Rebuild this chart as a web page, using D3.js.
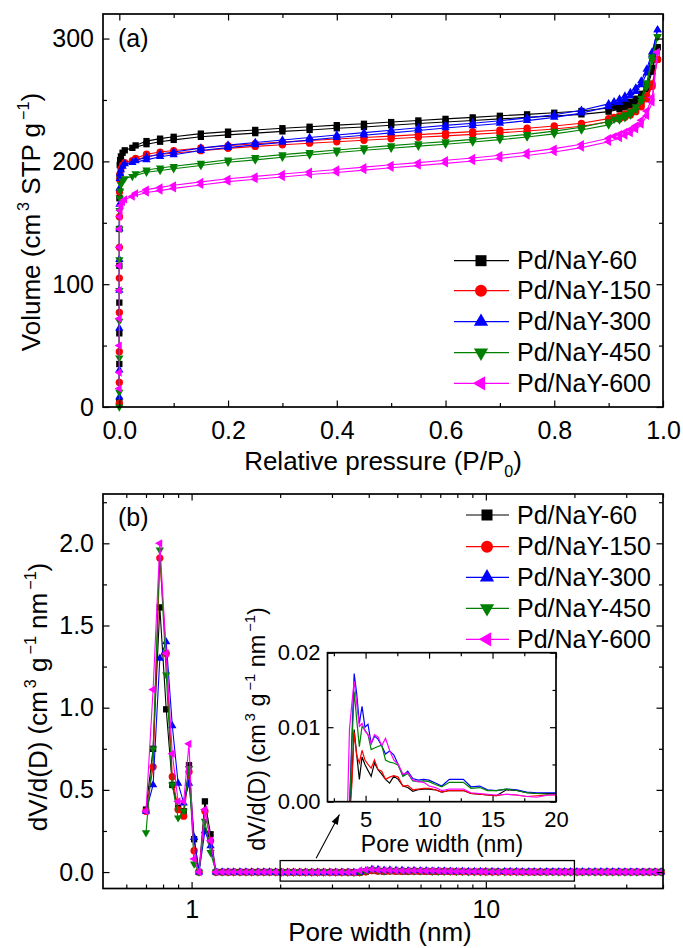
<!DOCTYPE html>
<html>
<head>
<meta charset="utf-8">
<script src="https://cdn.jsdelivr.net/npm/d3@7.9.0/dist/d3.min.js"></script>
<style>
  body { margin: 0; background: #fff; }
  text { font-family: "Liberation Sans", Arial, sans-serif; fill: #000; }
</style>
</head>
<body>
<svg id="chart" width="683" height="948"></svg>
<script>
// ---- data ----
const seriesNames = ["Pd/NaY-60", "Pd/NaY-150", "Pd/NaY-300", "Pd/NaY-450", "Pd/NaY-600"];
const seriesColors = ["#000000", "#ff0000", "#0000ff", "#008000", "#ff00ff"];
const seriesSymbols = ["square", "circle", "up", "down", "left"];

// (a) isotherms, relative pressure P/P0
const pAds = [0.000001, 0.000005, 0.00001, 0.00003, 0.00006, 0.0001, 0.0002, 0.0004, 0.0008, 0.0015, 0.003, 0.006, 0.01,
  0.024, 0.05, 0.075, 0.1,
  0.15, 0.2, 0.25, 0.3, 0.35, 0.4, 0.45, 0.5, 0.55, 0.6, 0.65, 0.7, 0.75, 0.8, 0.85,
  0.9, 0.92, 0.93, 0.94, 0.95, 0.96, 0.97, 0.98, 0.99];
const pDes = [0.99, 0.98, 0.97, 0.96, 0.95, 0.94, 0.93, 0.92, 0.91, 0.9,
  0.85, 0.8, 0.75, 0.7, 0.65, 0.6, 0.55, 0.5, 0.45, 0.4, 0.35, 0.3, 0.25, 0.2, 0.15,
  0.1, 0.075, 0.05, 0.03];

const vAds60 = [5, 35, 60, 85, 115, 145, 170, 188, 197, 201, 204, 207, 209,
  211, 214, 216, 217.5,
  220, 221.6, 223, 224.4, 225.6, 227, 228, 229.4, 230.8, 232, 233.3, 234.6, 235.8, 237, 238.3,
  240.5, 242.5, 244, 245.5, 248, 252, 259, 273, 293];
const vDes60 = [293, 276, 262, 255, 251, 248.5, 247, 246, 244.5, 243.5,
  241, 239.6, 238.3, 237.1, 235.8, 234.6, 233.3, 232, 230.6, 229.5, 228.2, 227, 225.6, 224.2, 222.6,
  220, 218.5, 216.5, 213];

const vAds150 = [3, 20, 45, 77, 105, 130, 155, 175, 185, 190, 194, 197, 199,
  200.5, 203.8, 205.6, 206.8,
  208.7, 210.6, 212.2, 213.5, 214.8, 216, 217.2, 218.4, 219.6, 220.8, 222, 223.3, 224.7, 226.4, 228.6,
  232.2, 234.5, 236, 237.8, 240.5, 244.5, 251, 261, 283];
const vDes150 = [283, 263, 253.5, 247, 243, 240.2, 238.5, 237, 235.8, 234.8,
  231, 228.8, 227, 225.5, 224.2, 223, 221.8, 220.6, 219.4, 218.2, 217, 215.7, 214.4, 212.8, 210.9,
  208.8, 207.6, 205.8, 202.5];

const vAds300 = [8, 30, 64, 95, 120, 145, 165, 178, 186, 190, 193, 196, 198,
  199, 201.2, 203.8, 205.4,
  208.8, 211.2, 213.4, 215.4, 217.3, 219.4, 221.3, 223.2, 225.2, 227.2, 229, 230.9, 233.2, 235.8, 239.3,
  244.5, 247.8, 250.5, 253.3, 256.8, 262.3, 271.8, 286.7, 307];
const vDes300 = [307, 289, 275, 265.5, 259.8, 256, 253.2, 250.8, 248.6, 246.8,
  241.6, 238, 235.4, 233.1, 231.1, 229.3, 227.4, 225.4, 223.4, 221.5, 219.4, 217.4, 215.4, 213.2, 210.8,
  207.6, 206, 203.5, 200.5];

const vAds450 = [0, 12, 40, 70, 95, 120, 145, 160, 170, 176, 181, 184, 186,
  187.8, 191.2, 192.6, 194,
  196.6, 199.3, 201.2, 203.4, 205.2, 207.2, 209, 210.7, 212.4, 214, 215.8, 217.7, 219.8, 222.4, 225.5,
  229.7, 233.8, 235.6, 237.8, 241.9, 248.7, 260.9, 282.6, 301.6];
const vDes450 = [301.6, 285, 264, 251.5, 244.5, 240.4, 238, 236.2, 234.3, 232.4,
  227.8, 224.6, 222, 219.8, 217.9, 216.1, 214.5, 212.8, 211.1, 209.3, 207.3, 205.5, 203.3, 201.3, 198.6,
  196, 194.6, 193, 190];

const vAds600 = [15, 28, 50, 72, 95, 115, 130, 145, 155, 160, 164, 167, 169,
  171.4, 174.6, 176.2, 178,
  180.8, 183.5, 185.5, 187.3, 189.3, 190.9, 192.9, 194.8, 196.5, 198.4, 200.3, 202.4, 204.8, 207.6, 211.2,
  216, 219, 221, 223, 226, 230, 237, 248, 289];
const vDes600 = [289, 252, 241, 233.5, 229, 226, 224, 222.2, 220.4, 218.8,
  214, 210.4, 207.5, 205, 202.8, 200.9, 199, 197.2, 195.3, 193.4, 191.6, 189.7, 187.8, 185.8, 183.3,
  180.5, 178.8, 177, 174];

// (b) pore size distribution, pore width (nm)
const poreWidth = [0.70, 0.74, 0.78, 0.82, 0.86, 0.90, 0.94, 0.98, 1.02, 1.06, 1.11, 1.16, 1.21,
  1.27, 1.33, 1.39, 1.46, 1.53, 1.60, 1.68, 1.76, 1.84, 1.93,
  2.02, 2.12, 2.22, 2.33, 2.44, 2.56, 2.68, 2.81, 2.95, 3.09, 3.24, 3.40,
  3.56, 3.73, 3.91, 4.10, 4.30, 4.51, 4.72, 4.95,
  5.19, 5.44, 5.70, 5.98, 6.27, 6.57, 6.89, 7.22, 7.57, 7.94,
  8.32, 8.72, 9.14, 9.58,
  10.0, 10.5, 11.0, 11.6, 12.1, 12.7, 13.3, 14.0, 14.6, 15.3, 16.1, 16.9, 17.7, 18.5, 19.4,
  20.4, 21.3, 22.4, 23.5, 24.6, 25.8, 27.0, 28.3, 29.7, 31.1, 32.6, 34.2, 35.9, 37.6, 39.4];

const dv60 = [0.38, 0.75, 1.61, 0.99, 0.53, 0.39, 0.37, 0.65, 0.20, 0.00, 0.43, 0.23, 0.00,
  0, 0, 0, 0, 0, 0, 0, 0, 0, 0,
  -0.001, -0.001, -0.001, -0.001, -0.001, -0.001, -0.001, -0.001, -0.001, -0.001, -0.001, -0.001,
  -0.002, -0.002, 0.003, 0.0097, 0.0063, 0.0030, 0.0060, 0.0050,
  0.0042, 0.0034, 0.0052, 0.0043, 0.0037, 0.0030, 0.0025, 0.0034, 0.0030, 0.0021,
  0.0019, 0.0014, 0.0016, 0.0017,
  0.0017, 0.0016, 0.0013, 0.0015, 0.0015, 0.0015, 0.0011, 0.0010, 0.0009, 0.0008, 0.0016, 0.0015, 0.0012, 0.0011, 0.0011,
  0.0011, 0.0010, 0.0010, 0.0009, 0.0009, 0.0008, 0.0008, 0.0007, 0.0007, 0.0006, 0.0006, 0.0005, 0.0005, 0.0005, 0.0004];
const dv150 = [0.37, 0.64, 1.91, 1.33, 0.58, 0.38, 0.34, 0.61, 0.13, 0.00, 0.37, 0.19, 0.00,
  0, 0, 0, 0, 0, 0, 0, 0, 0, 0,
  -0.001, -0.001, -0.001, -0.001, -0.001, -0.001, -0.001, -0.001, -0.001, -0.001, -0.001, -0.001,
  -0.002, -0.002, 0.002, 0.0093, 0.0062, 0.0052, 0.0069, 0.0056,
  0.0050, 0.0045, 0.0056, 0.0043, 0.0041, 0.0030, 0.0033, 0.0035, 0.0033, 0.0021,
  0.0022, 0.0016, 0.0017, 0.0018,
  0.0018, 0.0016, 0.0013, 0.0015, 0.0015, 0.0015, 0.0011, 0.0010, 0.0009, 0.0008, 0.0010, 0.0009, 0.0007, 0.0008, 0.0009,
  0.0009, 0.0009, 0.0008, 0.0008, 0.0007, 0.0007, 0.0007, 0.0006, 0.0006, 0.0005, 0.0005, 0.0005, 0.0004, 0.0004, 0.0004];
const dv300 = [0.37, 0.53, 1.30, 1.40, 0.89, 0.54, 0.42, 0.54, 0.21, 0.00, 0.25, 0.16, 0.00,
  0, 0, 0, 0, 0, 0, 0, 0, 0, 0,
  -0.001, -0.001, -0.001, -0.001, -0.001, -0.001, -0.001, -0.001, -0.001, -0.001, -0.001, -0.001,
  -0.002, -0.001, 0.008, 0.0172, 0.0145, 0.0105, 0.0128, 0.0100,
  0.0104, 0.0078, 0.0088, 0.0084, 0.0075, 0.0064, 0.0068, 0.0063, 0.0050, 0.0035,
  0.0041, 0.0031, 0.0029, 0.0030,
  0.0029, 0.0025, 0.0021, 0.0030, 0.0030, 0.0030, 0.0020, 0.0021, 0.0016, 0.0015, 0.0017, 0.0016, 0.0013, 0.0012, 0.0012,
  0.0012, 0.0012, 0.0011, 0.0011, 0.0010, 0.0010, 0.0009, 0.0009, 0.0008, 0.0008, 0.0007, 0.0007, 0.0006, 0.0006, 0.0005];
const dv450 = [0.24, 0.75, 1.96, 1.20, 0.53, 0.33, 0.37, 0.63, 0.05, 0.00, 0.31, 0.12, 0.00,
  0, 0, 0, 0, 0, 0, 0, 0, 0, 0,
  -0.001, -0.001, -0.001, -0.001, -0.001, -0.001, -0.001, -0.001, -0.001, -0.001, -0.001, -0.001,
  -0.002, -0.001, 0.007, 0.0148, 0.0110, 0.0074, 0.0101, 0.0096,
  0.0090, 0.0070, 0.0072, 0.0074, 0.0076, 0.0056, 0.0053, 0.0052, 0.0049, 0.0034,
  0.0038, 0.0028, 0.0027, 0.0028,
  0.0027, 0.0023, 0.0020, 0.0026, 0.0026, 0.0026, 0.0018, 0.0019, 0.0015, 0.0015, 0.0017, 0.0015, 0.0012, 0.0011, 0.0010,
  0.0010, 0.0010, 0.0009, 0.0009, 0.0008, 0.0008, 0.0008, 0.0007, 0.0007, 0.0006, 0.0006, 0.0005, 0.0005, 0.0005, 0.0004];
const dv600 = [0.37, 1.11, 2.00, 1.33, 0.72, 0.43, 0.43, 0.78, 0.08, 0.00, 0.38, 0.19, 0.00,
  0, 0, 0, 0, 0, 0, 0, 0, 0, 0,
  -0.001, -0.001, -0.001, -0.001, -0.001, -0.001, -0.001, -0.001, -0.001, -0.001, -0.001, -0.001,
  -0.002, 0.0097, 0.0130, 0.0162, 0.0132, 0.0101, 0.0105, 0.0095,
  0.0090, 0.0078, 0.0090, 0.0087, 0.0075, 0.0085, 0.0069, 0.0056, 0.0050, 0.0037,
  0.0039, 0.0029, 0.0027, 0.0026,
  0.0021, 0.0019, 0.0015, 0.0017, 0.0017, 0.0017, 0.0012, 0.0011, 0.0010, 0.0009, 0.0010, 0.0009, 0.0007, 0.0006, 0.0009,
  0.0010, 0.0009, 0.0009, 0.0008, 0.0008, 0.0007, 0.0007, 0.0006, 0.0006, 0.0006, 0.0005, 0.0005, 0.0004, 0.0004, 0.0004];

// tick values
const aXMajor = [0, 0.2, 0.4, 0.6, 0.8, 1.0];
const aXMinor = [0.1, 0.3, 0.5, 0.7, 0.9];
const aYMajor = [0, 100, 200, 300];
const aYMinor = [50, 150, 250];
const bXMajor = [1, 10];
const bXMinor = [0.6, 0.7, 0.8, 0.9, 2, 3, 4, 5, 6, 7, 8, 9, 20, 30, 40];
const bYMajor = [0, 0.5, 1.0, 1.5, 2.0];
const bYMinor = [0.25, 0.75, 1.25, 1.75, 2.25];
const iXMajor = [5, 10, 15, 20];
const iXMinor = [2.5, 7.5, 12.5, 17.5];
const iYMajor = [0, 0.01, 0.02];
const iYMinor = [0.005, 0.015];

const isoAds = [vAds60, vAds150, vAds300, vAds450, vAds600];
const isoDes = [vDes60, vDes150, vDes300, vDes450, vDes600];
const psd = [dv60, dv150, dv300, dv450, dv600];

// ---- drawing ----
const svg = d3.select("#chart");
const FONT = "'Liberation Sans', Arial, sans-serif";

function symbolPath(kind, size) {
  const type = kind === "square" ? d3.symbolSquare : kind === "circle" ? d3.symbolCircle : d3.symbolTriangle;
  return d3.symbol().type(type).size(size)();
}
function symbolRot(kind) {
  return kind === "down" ? 180 : kind === "left" ? -90 : 0;
}
function markerSize(kind, big) {
  if (kind === "square") return big ? 121 : 40;
  if (kind === "circle") return big ? 113 : 42;
  return big ? 88 : 30;
}

function drawFrame(g, x, y, c) {
  const [x0, x1] = x.range();
  const [y0, y1] = y.range();
  const add = (axis, tr) => g.append("g").attr("transform", tr).call(axis)
    .call(s => s.select(".domain").remove());
  add(d3.axisBottom(x).tickValues(c.xMajor).tickSize(-c.major).tickPadding(c.xPad).tickFormat(c.xFmt), `translate(0,${y0})`);
  add(d3.axisBottom(x).tickValues(c.xMinor).tickSize(-c.minor).tickFormat(""), `translate(0,${y0})`);
  add(d3.axisTop(x).tickValues(c.xMajor).tickSize(-c.major).tickFormat(""), `translate(0,${y1})`);
  add(d3.axisTop(x).tickValues(c.xMinor).tickSize(-c.minor).tickFormat(""), `translate(0,${y1})`);
  add(d3.axisLeft(y).tickValues(c.yMajor).tickSize(-c.major).tickPadding(c.yPad).tickFormat(c.yFmt), `translate(${x0},0)`);
  add(d3.axisLeft(y).tickValues(c.yMinor).tickSize(-c.minor).tickFormat(""), `translate(${x0},0)`);
  add(d3.axisRight(y).tickValues(c.yMajor).tickSize(-c.major).tickFormat(""), `translate(${x1},0)`);
  add(d3.axisRight(y).tickValues(c.yMinor).tickSize(-c.minor).tickFormat(""), `translate(${x1},0)`);
  g.selectAll(".tick text").style("font-size", c.fs + "px").style("font-family", FONT).attr("fill", "#000");
  g.selectAll(".tick line").attr("stroke", "#000").attr("stroke-width", 1.2);
  g.append("rect").attr("x", x0).attr("y", y1).attr("width", x1 - x0).attr("height", y0 - y1)
    .attr("fill", "none").attr("stroke", "#000").attr("stroke-width", 1.7);
}

// rich text: parts [{t, sup, sub}]
function richText(g, x, y, parts, fs, rotate) {
  const t = g.append("text").attr("text-anchor", "middle").style("font-size", fs + "px")
    .attr("transform", rotate ? `translate(${x},${y}) rotate(-90)` : `translate(${x},${y})`);
  let shift = 0;
  parts.forEach(p => {
    const target = p.sup ? -0.42 * fs : p.sub ? 0.25 * fs : 0;
    const ts = t.append("tspan").attr("dy", target - shift).text(p.t);
    if (p.sup || p.sub) ts.style("font-size", (fs * 0.62) + "px").attr("dx", p.dx || 0);
    shift = target;
  });
  return t;
}

function drawMarkers(g, pts, kind, color, big) {
  g.selectAll(null).data(pts).join("path")
    .attr("d", symbolPath(kind, markerSize(kind, big)))
    .attr("transform", d => `translate(${d[0]},${d[1]}) rotate(${symbolRot(kind)})`)
    .attr("fill", color);
}

function drawLegend(g, lx0, lx1, mx, tx, ys) {
  seriesNames.forEach((name, i) => {
    g.append("line").attr("x1", lx0).attr("x2", lx1).attr("y1", ys[i]).attr("y2", ys[i])
      .attr("stroke", seriesColors[i]).attr("stroke-width", 1.2);
    drawMarkers(g, [[mx, ys[i]]], seriesSymbols[i], seriesColors[i], true);
    g.append("text").attr("x", tx).attr("y", ys[i]).attr("dy", "0.35em")
      .style("font-size", "25px").text(name);
  });
}

// ---------- panel (a) ----------
const xa = d3.scaleLinear().domain([-0.03, 1.0]).range([103, 663]);
const ya = d3.scaleLinear().domain([0, 320]).range([407, 14]);
const ga = svg.append("g");

const lineA = d3.line().x(d => xa(d[0])).y(d => ya(d[1]));
seriesNames.forEach((n, i) => {
  const ads = pAds.map((p, k) => [p, isoAds[i][k]]);
  const des = pDes.map((p, k) => [p, isoDes[i][k]]);
  [ads, des].forEach(br => {
    ga.append("path").attr("d", lineA(br)).attr("fill", "none")
      .attr("stroke", seriesColors[i]).attr("stroke-width", 1.1);
    drawMarkers(ga.append("g"), br.map(d => [xa(d[0]), ya(d[1])]), seriesSymbols[i], seriesColors[i], false);
  });
});

drawFrame(ga, xa, ya, {
  xMajor: aXMajor, xMinor: aXMinor, yMajor: aYMajor, yMinor: aYMinor,
  xFmt: d3.format(".1f"), yFmt: d3.format("d"), xPad: 14, yPad: 9, fs: 25, major: 6.5, minor: 4
});

ga.append("text").attr("x", 118).attr("y", 46.5).style("font-size", "25px").text("(a)");
richText(ga, 40, 222, [{ t: "Volume (cm" }, { t: "3", sup: true, dx: 3 }, { t: " STP g" }, { t: "\u22121", sup: true, dx: 3 }, { t: ")" }], 26, true);
richText(ga, 383, 470, [{ t: "Relative pressure (P/P" }, { t: "0", sub: true }, { t: ")" }], 26, false);
drawLegend(ga, 454, 509, 481, 517, [260.7, 290.7, 321.7, 352.7, 383.3]);

// ---------- panel (b) ----------
const xb = d3.scaleLog().domain([0.5, 40]).range([103, 663]);
const yb = d3.scaleLinear().domain([-0.1, 2.3]).range([888.5, 494]);
const gb = svg.append("g");

const lineB = d3.line().x(d => xb(d[0])).y(d => yb(d[1]));
seriesNames.forEach((n, i) => {
  const pts = poreWidth.map((w, k) => [w, psd[i][k]]);
  gb.append("path").attr("d", lineB(pts)).attr("fill", "none")
    .attr("stroke", seriesColors[i]).attr("stroke-width", 1.1);
  drawMarkers(gb.append("g"), pts.map(d => [xb(d[0]), yb(d[1])]), seriesSymbols[i], seriesColors[i], false);
});

drawFrame(gb, xb, yb, {
  xMajor: bXMajor, xMinor: bXMinor, yMajor: bYMajor, yMinor: bYMinor,
  xFmt: d3.format("d"), yFmt: d3.format(".1f"), xPad: 11.5, yPad: 9, fs: 25, major: 6.5, minor: 4
});

gb.append("text").attr("x", 118).attr("y", 526).style("font-size", "25px").text("(b)");
richText(gb, 47, 697, [{ t: "dV/d(D) (cm" }, { t: "3", sup: true, dx: 3 }, { t: " g" }, { t: "\u22121", sup: true, dx: 3 }, { t: " nm" }, { t: "\u22121", sup: true, dx: 3 }, { t: ")" }], 26, true);
gb.append("text").attr("x", 380).attr("y", 941).attr("text-anchor", "middle").style("font-size", "26px").text("Pore width (nm)");
drawLegend(gb, 466, 509, 487, 517, [515, 546.7, 577.3, 608.3, 639.3]);

// zoom box and arrow
gb.append("rect").attr("x", xb(2)).attr("y", yb(0.07)).attr("width", xb(20) - xb(2)).attr("height", yb(-0.055) - yb(0.07))
  .attr("fill", "none").attr("stroke", "#000").attr("stroke-width", 1.3);
svg.append("defs").append("marker").attr("id", "arrowHead").attr("viewBox", "0 0 10 8")
  .attr("refX", 10).attr("refY", 4).attr("markerWidth", 11).attr("markerHeight", 8)
  .attr("markerUnits", "userSpaceOnUse").attr("orient", "auto")
  .append("path").attr("d", "M0,0.5L10,4L0,7.5Z").attr("fill", "#000");
gb.append("line").attr("x1", xb(2.65)).attr("y1", yb(0.084)).attr("x2", xb(3.18)).attr("y2", yb(0.35))
  .attr("stroke", "#000").attr("stroke-width", 1.1).attr("marker-end", "url(#arrowHead)");

// ---------- inset ----------
const xi = d3.scaleLinear().domain([2, 20]).range([327.5, 556]);
const yi = d3.scaleLinear().domain([0, 0.02]).range([801.7, 652.7]);
const gi = svg.append("g");
gi.append("rect").attr("x", 327.5).attr("y", 652.7).attr("width", 228.5).attr("height", 149).attr("fill", "#fff");
svg.select("defs").append("clipPath").attr("id", "insetClip").append("rect")
  .attr("x", 327.5).attr("y", 652.7).attr("width", 228.5).attr("height", 149);
const gic = gi.append("g").attr("clip-path", "url(#insetClip)");
const lineI = d3.line().x(d => xi(d[0])).y(d => yi(d[1]));
seriesNames.forEach((n, i) => {
  const pts = poreWidth.map((w, k) => [w, psd[i][k]]).filter(d => d[0] >= 1.9 && d[0] <= 21);
  gic.append("path").attr("d", lineI(pts)).attr("fill", "none")
    .attr("stroke", seriesColors[i]).attr("stroke-width", 1.2);
});
drawFrame(gi, xi, yi, {
  xMajor: iXMajor, xMinor: iXMinor, yMajor: iYMajor, yMinor: iYMinor,
  xFmt: d3.format("d"), yFmt: d3.format(".2f"), xPad: 10, yPad: 7, fs: 22, major: 6, minor: 3.5
});
richText(gi, 265, 729, [{ t: "dV/d(D) (cm" }, { t: "3", sup: true, dx: 3 }, { t: " g" }, { t: "\u22121", sup: true, dx: 3 }, { t: " nm" }, { t: "\u22121", sup: true, dx: 3 }, { t: ")" }], 23.5, true);
gi.append("text").attr("x", 442).attr("y", 852).attr("text-anchor", "middle").style("font-size", "23px").text("Pore width (nm)");
</script>
</body>
</html>
